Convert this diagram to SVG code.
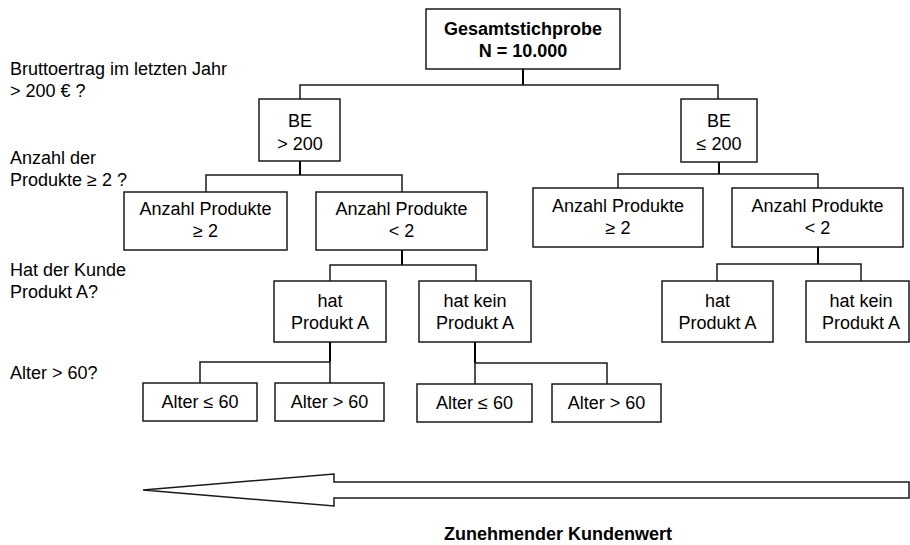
<svg xmlns="http://www.w3.org/2000/svg" width="910" height="545" viewBox="0 0 910 545">
  <style>
    .box { fill: #ffffff; stroke: #1a1a1a; stroke-width: 1.5; }
    .t { font-family: "Liberation Sans", Arial, sans-serif; font-size: 18px; fill: #000; text-anchor: middle; }
    .b { font-weight: bold; }
    .lbl { font-family: "Liberation Sans", Arial, sans-serif; font-size: 18px; fill: #000; }
    .wire { fill: none; stroke: #1a1a1a; stroke-width: 1.5; }
    .stem { fill: none; stroke: #000; stroke-width: 2; }
  </style>
  <rect width="910" height="545" fill="#ffffff"/>

  <!-- level questions on the left -->
  <g id="questions">
    <text class="lbl" x="10" y="75">Bruttoertrag im letzten Jahr</text>
    <text class="lbl" x="10" y="97">&gt; 200 € ?</text>
    <text class="lbl" x="10" y="164">Anzahl der</text>
    <text class="lbl" x="10" y="186">Produkte ≥ 2 ?</text>
    <text class="lbl" x="10" y="276">Hat der Kunde</text>
    <text class="lbl" x="10" y="298">Produkt A?</text>
    <text class="lbl" x="10" y="379">Alter &gt; 60?</text>
  </g>

  <!-- tree connectors -->
  <g id="connectors">
    <path class="stem" d="M523 69 V85"/>
    <path class="wire" d="M300 99 V85 H718 V99"/>
    <path class="stem" d="M300 161 V175"/>
    <path class="wire" d="M206 192 V175 H402 V192"/>
    <path class="stem" d="M719 162 V174"/>
    <path class="wire" d="M618 188 V174 H818 V188"/>
    <path class="stem" d="M402 250 V265"/>
    <path class="wire" d="M330 281 V265 H476 V281"/>
    <path class="stem" d="M818 247 V264"/>
    <path class="wire" d="M717 281 V264 H861 V281"/>
    <path class="stem" d="M330 342 V362"/>
    <path class="wire" d="M200 383 V362 H330 V383"/>
    <path class="stem" d="M475 342 V363"/>
    <path class="wire" d="M475 363 V384 M475 363 H607 V384"/>
  </g>

  <g id="root">
    <rect class="box" x="426" y="9" width="194" height="60"/>
    <text class="t b" x="523" y="35">Gesamtstichprobe</text>
    <text class="t b" x="523" y="57">N = 10.000</text>
  </g>

  <g id="be-high">
    <rect class="box" x="259" y="99" width="81" height="62"/>
    <text class="t" x="300" y="127">BE</text>
    <text class="t" x="300" y="150">&gt; 200</text>
  </g>
  <g id="be-low">
    <rect class="box" x="681" y="99" width="76" height="63"/>
    <text class="t" x="719" y="127">BE</text>
    <text class="t" x="719" y="150">≤ 200</text>
  </g>

  <g id="high-prod-many">
    <rect class="box" x="124" y="192" width="163" height="58"/>
    <text class="t" x="205.5" y="215">Anzahl Produkte</text>
    <text class="t" x="205.5" y="237">≥ 2</text>
  </g>
  <g id="high-prod-few">
    <rect class="box" x="316" y="192" width="171" height="58"/>
    <text class="t" x="401.5" y="215">Anzahl Produkte</text>
    <text class="t" x="401.5" y="237">&lt; 2</text>
  </g>
  <g id="low-prod-many">
    <rect class="box" x="533" y="188" width="170" height="59"/>
    <text class="t" x="618" y="212">Anzahl Produkte</text>
    <text class="t" x="618" y="234">≥ 2</text>
  </g>
  <g id="low-prod-few">
    <rect class="box" x="732" y="188" width="171" height="59"/>
    <text class="t" x="817.5" y="212">Anzahl Produkte</text>
    <text class="t" x="817.5" y="234">&lt; 2</text>
  </g>

  <g id="high-has-a">
    <rect class="box" x="274" y="281" width="112" height="61"/>
    <text class="t" x="330" y="307">hat</text>
    <text class="t" x="330" y="329">Produkt A</text>
  </g>
  <g id="high-no-a">
    <rect class="box" x="419" y="281" width="112" height="61"/>
    <text class="t" x="475" y="307">hat kein</text>
    <text class="t" x="475" y="329">Produkt A</text>
  </g>
  <g id="low-has-a">
    <rect class="box" x="662" y="281" width="111" height="61"/>
    <text class="t" x="717.5" y="307">hat</text>
    <text class="t" x="717.5" y="329">Produkt A</text>
  </g>
  <g id="low-no-a">
    <rect class="box" x="806" y="281" width="103" height="61"/>
    <text class="t" x="861" y="307">hat kein</text>
    <text class="t" x="861" y="329">Produkt A</text>
  </g>

  <g id="has-a-young">
    <rect class="box" x="143" y="383" width="114" height="38"/>
    <text class="t" x="200" y="408">Alter ≤ 60</text>
  </g>
  <g id="has-a-old">
    <rect class="box" x="275" y="383" width="109" height="38"/>
    <text class="t" x="329.5" y="408">Alter &gt; 60</text>
  </g>
  <g id="no-a-young">
    <rect class="box" x="417" y="384" width="115" height="38"/>
    <text class="t" x="474.5" y="409">Alter ≤ 60</text>
  </g>
  <g id="no-a-old">
    <rect class="box" x="552" y="384" width="109" height="38"/>
    <text class="t" x="606.5" y="409">Alter &gt; 60</text>
  </g>

  <!-- customer value arrow -->
  <g id="value-arrow">
    <polygon class="box" points="143,490 334,474 334,482 909,482 909,498 334,498 334,506"/>
    <text class="t b" x="558" y="540">Zunehmender Kundenwert</text>
  </g>
</svg>
